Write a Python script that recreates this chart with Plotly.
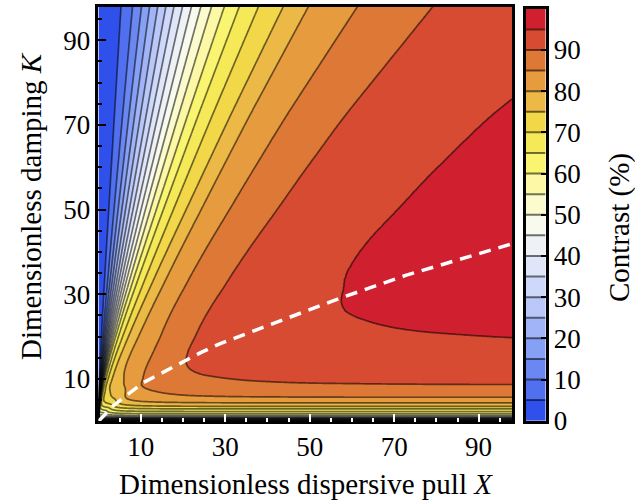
import numpy as np
import plotly.graph_objects as go

# Fan contours: level (%), X where each one meets the top edge (K = 97),
# and the damping offset where its straight part converges.
fan_level = [0, 5, 10, 15, 20, 25, 30, 35, 40, 45, 50, 55, 60, 65, 70, 75, 80, 85, 90,
             91, 92, 93, 94, 95, 96, 97, 98, 99, 99.5, 99.8, 100]
fan_top_x = [0, 5.3, 8.0, 10.1, 12.0, 13.9, 15.8, 17.7, 19.7, 21.8, 24.0, 26.5, 29.5, 33.0,
             37.5, 43.3, 49.2, 60.7, 78.4, 84.4, 91.3, 99.8, 110.5, 124.8, 144.9, 175.5,
             229.9, 365.0, 579.5, 1067.4, 1.0e7]
fan_k0 = [10, 10, 10, 10, 10, 10, 10, 10, 10, 10, 10, 10, 10, 10, 9, 8, 6, 4, 0,
          0, 0, 0, 0, 0, 0, 0, 0, 0, 0, 0, 0]
TOP_K = 97.0

# Ceiling on the contrast set by the damping alone (large X)
floor_k = [0, 0.25, 0.5, 0.8, 1.1, 1.4, 1.8, 2.3, 2.9, 3.5, 4.3, 5.6, 7.0, 8.7, 10, 12, 14,
           17, 20, 22.7, 25, 28.6, 31, 36, 42, 50, 60, 75, 100]
floor_factor = [0, 0.17, 0.30, 0.42, 0.50, 0.55, 0.60, 0.65, 0.70, 0.75, 0.80, 0.85, 0.873,
                0.902, 0.912, 0.927, 0.938, 0.949, 0.957, 0.964, 0.969, 0.975, 0.978, 0.984,
                0.989, 0.993, 0.997, 1.0, 1.0]

# Optimal damping for a given dispersive pull (dashed curve)
opt_x = [0, 3.7, 7.5, 10.6, 14.6, 19.5, 24.2, 28.7, 46.5, 57.0, 72.9, 94.9, 97.9]
opt_k = [0, 3.85, 6.75, 9.1, 11.2, 13.8, 16.2, 18.3, 25.1, 29.0, 34.5, 41.1, 41.9]

# Contour levels and band colours (0-5, 5-10, ..., 95-100)
levels = list(range(0, 101, 5))
band_colors = ['#3050eb', '#5070f0', '#6b88f2', '#85a0f5', '#a0b4f7', '#b9c8f9', '#ced8fa',
               '#e0e6fa', '#eef1f5', '#f9faee', '#fcfbcd', '#fcf8a5', '#faf570', '#f6e958',
               '#f2d748', '#edb946', '#e69b3e', '#de7837', '#d64b32', '#d02030']
cbar_ticks = [0, 10, 20, 30, 40, 50, 60, 70, 80, 90]

FONT = 'Liberation Serif'
LINE = 'rgba(0,0,0,0.55)'


def psi(k, k0):
    k0 = np.asarray(k0, float)
    safe = np.where(k0 > 0, k0, 1.0)
    return np.where(k0 > 0, k - k0 * (1.0 - np.exp(-k / safe)), k)


def pchip(x, y, xq):
    """Monotone piecewise-cubic interpolation (Fritsch-Carlson)."""
    x = np.asarray(x, float)
    y = np.asarray(y, float)
    xq = np.clip(np.asarray(xq, float), x[0], x[-1])
    h = np.diff(x)
    d = np.diff(y) / h
    m = np.zeros_like(y)
    w1 = 2 * h[1:] + h[:-1]
    w2 = h[1:] + 2 * h[:-1]
    same = d[:-1] * d[1:] > 0
    with np.errstate(divide='ignore', invalid='ignore'):
        mi = (w1 + w2) / (w1 / d[:-1] + w2 / d[1:])
    m[1:-1] = np.where(same, mi, 0.0)
    m[0] = d[0]
    m[-1] = d[-1]
    i = np.clip(np.searchsorted(x, xq, side='right') - 1, 0, len(x) - 2)
    t = (xq - x[i]) / h[i]
    t2, t3 = t * t, t * t * t
    return ((2 * t3 - 3 * t2 + 1) * y[i] + (t3 - 2 * t2 + t) * h[i] * m[i]
            + (-2 * t3 + 3 * t2) * y[i + 1] + (t3 - t2) * h[i] * m[i + 1])


# evaluation grid, denser near the origin
xg = np.unique(np.round(np.concatenate([np.arange(0, 10, 0.1), np.arange(10, 30, 0.25),
                                        np.arange(30, 97.9, 0.5), [97.9]]), 3))
kg = np.unique(np.round(np.concatenate([np.arange(0, 3, 0.04), np.arange(3, 20, 0.2),
                                        np.arange(20, 97.9, 0.5), [97.9]]), 3))

lv = np.array(fan_level, float)
tx = np.array(fan_top_x, float)
k0 = np.array(fan_k0, float)
scale = psi(kg[:, None], k0[None, :]) / psi(TOP_K, k0)[None, :]
xl = tx[None, :] * scale

fan = np.empty((kg.size, xg.size))
for i, k in enumerate(kg):
    if k <= 0:
        fan[i] = 100.0
    else:
        fan[i] = pchip(xl[i], lv, xg)

ceiling = pchip(floor_k, floor_factor, kg)
z = np.round(np.clip(fan * ceiling[:, None], 0, 100), 2)

colorscale = [[i / (len(band_colors) - 1), c] for i, c in enumerate(band_colors)]

fig = go.Figure()
fig.add_trace(go.Contour(
    x=xg, y=kg, z=z,
    contours=dict(start=levels[1], end=levels[-2], size=5, coloring='fill'),
    colorscale=colorscale, zmin=2.5, zmax=97.5, zauto=False,
    line=dict(color=LINE, width=1.7),
    showscale=False, hoverinfo='skip'))

fig.add_trace(go.Scatter(
    x=opt_x, y=opt_k, mode='lines',
    line=dict(color='white', width=3.5, dash='12px,8px'),
    hoverinfo='skip', showlegend=False))

# colour bar drawn as its own small axis pair
mids = [[l + 2.5] for l in levels[:-1]]
fig.add_trace(go.Heatmap(
    x=[0, 1], y=levels, z=mids, colorscale=colorscale, zmin=2.5, zmax=97.5,
    showscale=False, xaxis='x2', yaxis='y2', hoverinfo='skip'))
sx, sy = [], []
for l in levels[1:-1]:
    sx += [0, 1, None]
    sy += [l, l, None]
fig.add_trace(go.Scatter(x=sx, y=sy, mode='lines', line=dict(color=LINE, width=2),
                         xaxis='x2', yaxis='y2', hoverinfo='skip', showlegend=False))

W, H = 635, 502
px_l, px_r, px_t, px_b = 98.4, 512.0, 6.7, 421.3

tickfont = dict(family=FONT, size=27, color='black')
fig.update_layout(
    width=W, height=H, margin=dict(l=0, r=0, t=0, b=0, autoexpand=False),
    paper_bgcolor='white', plot_bgcolor='white', showlegend=False,
    xaxis=dict(domain=[px_l / W, px_r / W], range=[0, 97.9], showgrid=False, zeroline=False,
               showline=True, linecolor='black', linewidth=2.5, mirror=True,
               tickmode='linear', tick0=10, dtick=20, ticks='inside', ticklen=8,
               tickwidth=2, tickcolor='white', tickfont=tickfont, automargin=False,
               minor=dict(tickmode='linear', tick0=0, dtick=5, ticks='inside', ticklen=3.5,
                          tickwidth=1.8, tickcolor='white', showgrid=False)),
    yaxis=dict(domain=[1 - px_b / H, 1 - px_t / H], range=[0, 97.9], showgrid=False,
               zeroline=False, showline=True, linecolor='black', linewidth=2.5, mirror=True,
               tickmode='linear', tick0=10, dtick=20, ticks='inside', ticklen=8,
               tickwidth=2, tickcolor='black', tickfont=tickfont, automargin=False,
               minor=dict(tickmode='linear', tick0=0, dtick=5, ticks='inside', ticklen=4,
                          tickwidth=1.8, tickcolor='black', showgrid=False)),
    xaxis2=dict(domain=[526 / W, 545.5 / W], range=[0, 1], anchor='y2', showgrid=False,
                zeroline=False, showticklabels=False, ticks='', showline=True,
                linecolor='black', linewidth=2.5, mirror=True, automargin=False),
    yaxis2=dict(domain=[1 - 420.7 / H, 1 - 8.8 / H], range=[0, 100], anchor='x2',
                side='right', showgrid=False, zeroline=False, tickmode='array',
                tickvals=cbar_ticks, ticks='inside', ticklen=5, tickwidth=2,
                tickcolor='black', showline=True, linecolor='black', linewidth=2.5,
                mirror=True, tickfont=tickfont, automargin=False),
    annotations=[
        dict(text='Dimensionless dispersive pull <i>X</i>', x=306 / W, y=1 - 484 / H,
             xref='paper', yref='paper', xanchor='center', yanchor='middle',
             showarrow=False, font=dict(family=FONT, size=29, color='black')),
        dict(text='Dimensionless damping <i>K</i>', x=31 / W, y=1 - 206 / H,
             xref='paper', yref='paper', xanchor='center', yanchor='middle',
             textangle=-90, showarrow=False, font=dict(family=FONT, size=29, color='black')),
        dict(text='Contrast (%)', x=619 / W, y=1 - 228 / H,
             xref='paper', yref='paper', xanchor='center', yanchor='middle',
             textangle=-90, showarrow=False, font=dict(family=FONT, size=29, color='black')),
    ],
)

fig.write_html('out.html')
